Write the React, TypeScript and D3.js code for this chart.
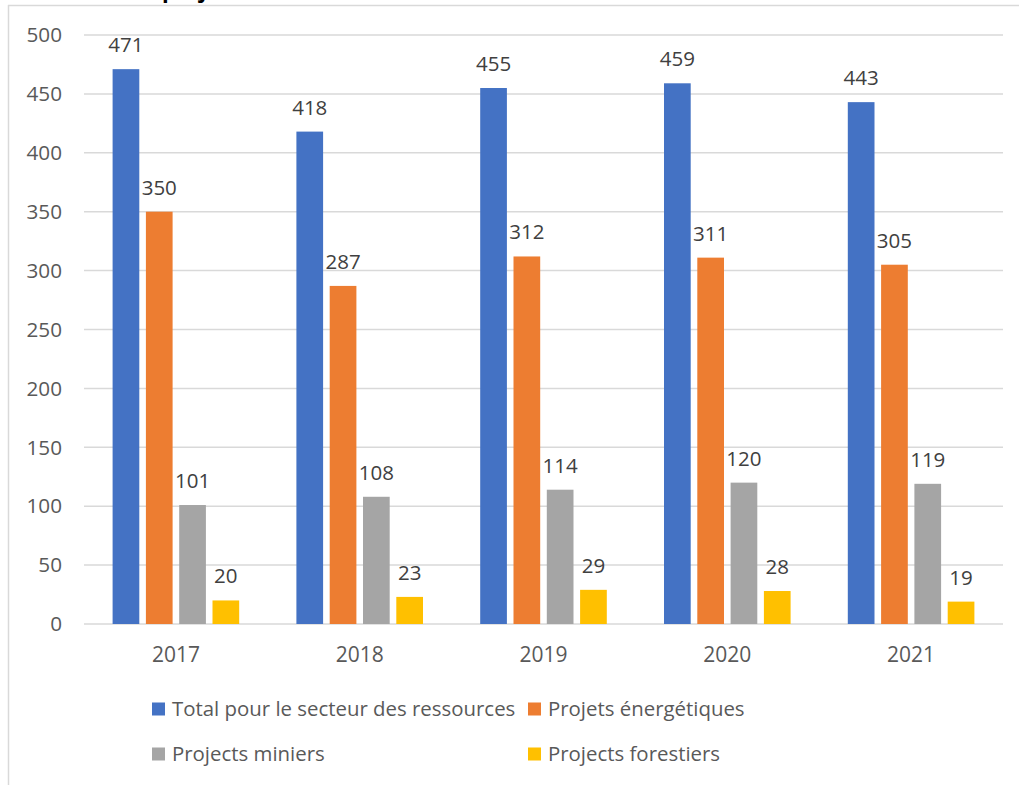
import React from "react";
import * as d3 from "d3";

const years = ["2017", "2018", "2019", "2020", "2021"];
const seriesNames = [
  "Total pour le secteur des ressources",
  "Projets énergétiques",
  "Projects miniers",
  "Projects forestiers",
];
const totalValues = [471, 418, 455, 459, 443];
const energyValues = [350, 287, 312, 311, 305];
const miningValues = [101, 108, 114, 120, 119];
const forestValues = [20, 23, 29, 28, 19];
const seriesColors = ["#4472C4", "#ED7D31", "#A5A5A5", "#FFC000"];
const yTicks = [0, 50, 100, 150, 200, 250, 300, 350, 400, 450, 500];

const W = 1019;
const H = 785;
const plot = { left: 84, right: 1003, top: 35, bottom: 624 };
const FONT = "'Open Sans', 'Noto Sans', sans-serif";

export default function App() {
  const allSeries = [totalValues, energyValues, miningValues, forestValues];
  const x = d3.scaleBand().domain(years).range([plot.left, plot.right]).paddingInner(0).paddingOuter(0);
  const y = d3.scaleLinear().domain([0, 500]).range([plot.bottom, plot.top]);
  const barW = 26.7;
  const step = 33.3;
  const groupW = step * 3 + barW;

  const legend = [
    { i: 0, x: 152, y: 709 },
    { i: 1, x: 528, y: 709 },
    { i: 2, x: 152, y: 754 },
    { i: 3, x: 528, y: 754 },
  ];

  return (
    <div style={{ position: "fixed", left: 0, top: 0 }}>
      <svg width={W} height={H} style={{ display: "block", background: "#fff" }} fontFamily={FONT}>
        <rect x={0} y={0} width={W} height={H} fill="#fff" />
        <text x={162} y={-2} fontSize={22} fontWeight="bold" fill="#000">projets</text>
        <line x1={8} x2={W + 5} y1={5.5} y2={5.5} stroke="#d9d9d9" strokeWidth={1.5} />
        <line x1={8.5} x2={8.5} y1={5} y2={H + 5} stroke="#d9d9d9" strokeWidth={1.5} />
        {yTicks.map((t) => (
          <g key={t}>
            <line x1={plot.left} x2={plot.right} y1={y(t)} y2={y(t)} stroke="#d9d9d9" strokeWidth={1.5} />
            <text x={62} y={y(t)} dy="0.35em" textAnchor="end" fontSize={20.7} fill="#595959">{t}</text>
          </g>
        ))}
        {years.map((yr, gi) => {
          const cx = (x(yr) as number) + x.bandwidth() / 2;
          const start = cx - groupW / 2;
          return (
            <g key={yr}>
              {allSeries.map((vals, si) => {
                const bx = start + si * step;
                const top = y(vals[gi]);
                return (
                  <g key={si}>
                    <rect x={bx} y={top} width={barW} height={plot.bottom - top} fill={seriesColors[si]} />
                    <text x={bx + barW / 2} y={top - 17} textAnchor="middle" fontSize={20.5} fill="#404040">{vals[gi]}</text>
                  </g>
                );
              })}
              <text x={cx} y={655} dy="0.35em" textAnchor="middle" fontSize={21} fill="#595959">{yr}</text>
            </g>
          );
        })}
        {legend.map((l) => (
          <g key={l.i}>
            <rect x={l.x} y={l.y - 6.5} width={13} height={13} fill={seriesColors[l.i]} />
            <text x={l.x + 20} y={l.y} dy="0.35em" fontSize={20.4} fill="#595959">{seriesNames[l.i]}</text>
          </g>
        ))}
      </svg>
    </div>
  );
}
